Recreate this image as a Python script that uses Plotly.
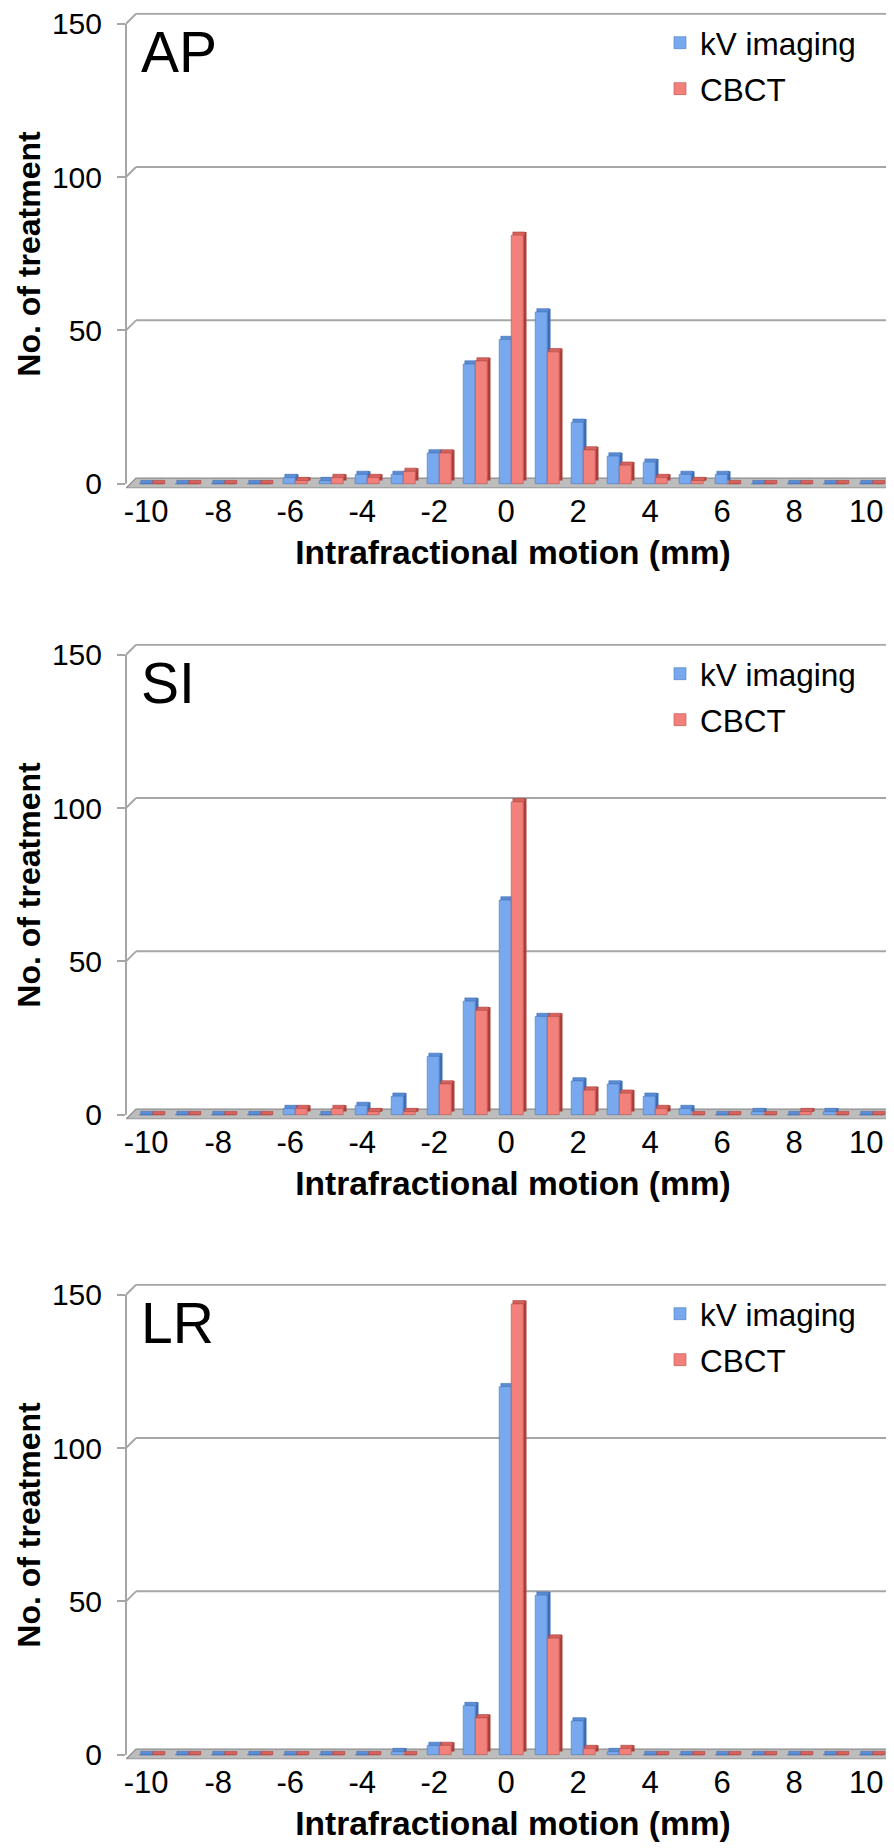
import plotly.graph_objects as go

# ---------------- data ----------------
motion = list(range(-10, 11))  # intrafractional motion (mm), categories

ap_kv   = [0, 0, 0, 0, 2, 1, 3, 3, 10, 39, 47, 56, 20, 9, 7, 3, 3, 0, 0, 0, 0]
ap_cbct = [0, 0, 0, 0, 1, 2, 2, 4, 10, 40, 81, 43, 11, 6, 2, 1, 0, 0, 0, 0, 0]

si_kv   = [0, 0, 0, 0, 2, 0, 3, 6, 19, 37, 70, 32, 11, 10, 6, 2, 0, 1, 0, 1, 0]
si_cbct = [0, 0, 0, 0, 2, 2, 1, 1, 10, 34, 102, 32, 8, 7, 2, 0, 0, 0, 1, 0, 0]

lr_kv   = [0, 0, 0, 0, 0, 0, 0, 1, 3, 16, 120, 52, 11, 1, 0, 0, 0, 0, 0, 0, 0]
lr_cbct = [0, 0, 0, 0, 0, 0, 0, 0, 3, 12, 147, 38, 2, 2, 0, 0, 0, 0, 0, 0, 0]

panel_labels = ["AP", "SI", "LR"]
series_names = ["kV imaging", "CBCT"]
y_tick_vals = [0, 50, 100, 150]
x_tick_vals = [-10, -8, -6, -4, -2, 0, 2, 4, 6, 8, 10]
x_tick_text = ["-10", "-8", "-6", "-4", "-2", "0", "2", "4", "6", "8", "10"]
x_title = "Intrafractional motion (mm)"
y_title = "No. of treatment"

panels = [(panel_labels[0], ap_kv, ap_cbct),
          (panel_labels[1], si_kv, si_cbct),
          (panel_labels[2], lr_kv, lr_cbct)]

# ---------------- geometry / style ----------------
W, H = 894, 1848
ZERO_PX = [475.7, 1106.7, 1746.7]    # pixel row of value 0 on the front axis
S = 460 / 150                          # px per count
AXIS_X = 118                           # front y-axis pixel column
RIGHT_X = 892
PX_CAT = 36                            # px per category
FIRST_CAT_X = 138.2
WALL = 10                              # px depth offset of back wall
BDEPTH = 3.3                           # px depth of a bar

xmin = motion[0] - (FIRST_CAT_X - AXIS_X) / PX_CAT
xmax = xmin + (RIGHT_X - AXIS_X) / PX_CAT

BW = 12 / PX_CAT
OFFS = [-7 / PX_CAT, -7 / PX_CAT + BW]
DX = BDEPTH / PX_CAT
DY = BDEPTH / S

FRONT = ["#78a9ef", "#f2817c"]
TOP = ["#5a8dd6", "#d8615c"]
SIDE = ["#3d6db3", "#aa3f3a"]
EDGE = ["#4a78bd", "#b9524d"]
GRID = "#a6a6a6"
FONT = "Liberation Sans, Arial, sans-serif"

fig = go.Figure()
layout = {}
shapes = []
annotations = []

for i, (label, kv, cb) in enumerate(panels):
    n = "" if i == 0 else str(i + 1)
    xa, ya = "x" + n, "y" + n
    y0 = ZERO_PX[i]
    bottom_px = y0 + 4.5
    top_px = y0 - 471
    legname = "legend" + n

    for k, vals in enumerate([kv, cb]):
        # side face
        fig.add_trace(go.Bar(
            x=motion, y=vals, base=[DY] * len(vals), width=DX, offset=OFFS[k] + BW,
            marker=dict(color=SIDE[k], line=dict(width=0)),
            xaxis=xa, yaxis=ya, showlegend=False, hoverinfo="skip"))
        # top face
        fig.add_trace(go.Bar(
            x=motion, y=[DY] * len(vals), base=vals, width=BW, offset=OFFS[k] + DX / 2,
            marker=dict(color=TOP[k], line=dict(width=0.6, color=SIDE[k])),
            xaxis=xa, yaxis=ya, showlegend=False, hoverinfo="skip"))
        # front face
        fig.add_trace(go.Bar(
            x=motion, y=vals, width=BW, offset=OFFS[k], name=series_names[k],
            marker=dict(color=FRONT[k], line=dict(width=0.6, color=EDGE[k])),
            xaxis=xa, yaxis=ya, legend=legname, legendgroup=f"{label}{k}",
            showlegend=True))

    layout["xaxis" + n] = dict(
        domain=[AXIS_X / W, RIGHT_X / W], range=[xmin, xmax], anchor=ya,
        tickvals=x_tick_vals, ticktext=x_tick_text, ticks="", showgrid=False,
        zeroline=False, showline=False,
        tickfont=dict(size=31, color="black", family=FONT), ticklabelstandoff=2,
        ticklabeloverflow="allow",
        title=dict(text=x_title, font=dict(size=33.5, color="black", family=FONT, weight="bold"),
                   standoff=12),
        automargin=False, fixedrange=True)
    layout["yaxis" + n] = dict(
        domain=[1 - bottom_px / H, 1 - top_px / H], range=[-4.5 / S, 471 / S], anchor=xa,
        tickvals=y_tick_vals, ticks="outside", ticklen=8, tickwidth=2, tickcolor=GRID,
        showgrid=False, zeroline=False, showline=False,
        tickfont=dict(size=30, color="black", family=FONT), ticklabelstandoff=9,
        ticklabeloverflow="allow",
        automargin=False, fixedrange=True)

    # y-axis title (rotated), centred on the 0-150 span of the axis
    annotations.append(dict(text=f"<b>{y_title}</b>", xref="paper", yref=ya,
                            x=1 / W, y=(y_tick_vals[0] + y_tick_vals[-1]) / 2,
                            xanchor="left", yanchor="middle", textangle=-90,
                            showarrow=False,
                            font=dict(size=32, color="black", family=FONT)))

    # floor (3-D base)
    fy, by = -4.5 / S, 5.5 / S
    shapes.append(dict(
        type="path", xref=xa, yref=ya, layer="below",
        path=(f"M {xmin},{fy} L {xmin + WALL / PX_CAT},{by} "
              f"L {xmin + 770 / PX_CAT},{by} L {xmin + 760 / PX_CAT},{fy} Z"),
        fillcolor="#bdbdbd", line=dict(color="#8a8a8a", width=1.2)))
    # front axis line
    shapes.append(dict(type="line", xref="paper", yref=ya, layer="below",
                       x0=AXIS_X / W, x1=AXIS_X / W, y0=y_tick_vals[0], y1=y_tick_vals[-1],
                       line=dict(color=GRID, width=2)))
    # back-wall gridlines + perspective connectors
    for v in y_tick_vals[1:]:
        shapes.append(dict(type="line", xref="paper", yref=ya, layer="below",
                           x0=(AXIS_X + WALL) / W, x1=(RIGHT_X - 2) / W,
                           y0=v + WALL / S, y1=v + WALL / S,
                           line=dict(color=GRID, width=2)))
        shapes.append(dict(type="line", xref="paper", yref=ya, layer="below",
                           x0=AXIS_X / W, x1=(AXIS_X + WALL) / W, y0=v, y1=v + WALL / S,
                           line=dict(color=GRID, width=2)))

    annotations.append(dict(text=label, xref="paper", yref="paper",
                            x=131 / W, y=1 - (y0 - 432) / H, xanchor="left", yanchor="middle",
                            showarrow=False, font=dict(size=57, color="black", family=FONT)))

    layout[legname] = dict(
        x=652 / W, y=1 - (y0 - 434 - 34) / H, xanchor="left", yanchor="top",
        font=dict(size=31.5, color="black", family=FONT), bgcolor="rgba(0,0,0,0)",
        tracegroupgap=2, traceorder="grouped", itemclick=False, itemdoubleclick=False)

fig.update_layout(
    width=W, height=H, margin=dict(l=0, r=0, t=0, b=0, pad=0),
    paper_bgcolor="white", plot_bgcolor="rgba(0,0,0,0)",
    barmode="overlay", template="none", showlegend=True,
    font=dict(family=FONT, color="black"),
    shapes=shapes, annotations=annotations, **layout)

fig.write_html("out.html")
